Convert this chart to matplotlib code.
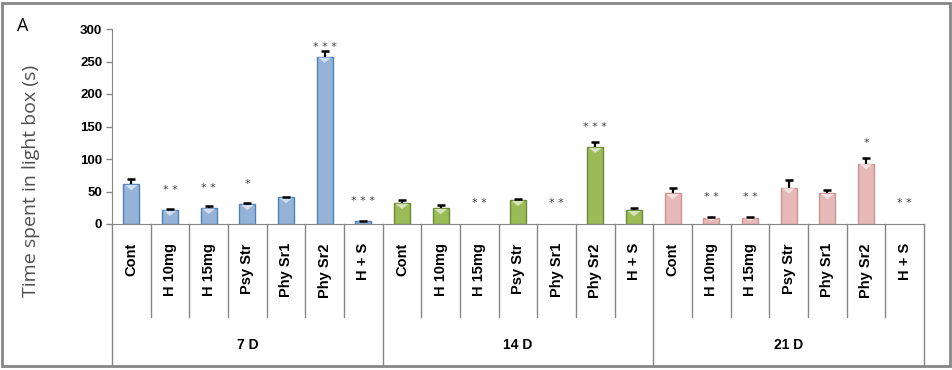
import numpy as np
import matplotlib
matplotlib.use('Agg')
import matplotlib.pyplot as plt
from matplotlib.patches import Rectangle, Polygon

# data
treatments = ['Cont', 'H 10mg', 'H 15mg', 'Psy Str', 'Phy Sr1', 'Phy Sr2', 'H + S']
groups = ['7 D', '14 D', '21 D']

mean_7d = [61, 21.5, 24.5, 30.5, 41, 257, 4]
err_7d = [8, 1, 3.5, 1.5, 1, 9, 1]
mean_14d = [32, 24, 0, 36.5, 0, 118, 21]
err_14d = [5.5, 5.5, 0, 2, 0, 8.5, 4]
mean_21d = [47, 10, 10, 56, 47, 93, 0]
err_21d = [9, 0.5, 1, 12, 5, 8.5, 0]

stars_7d = ['', '* *', '* *', '*', '', '* * *', '* * *']
stars_14d = ['', '', '* *', '', '* *', '* * *', '']
stars_21d = ['', '* *', '* *', '', '', '*', '* *']
star_y_7d = [0, 52, 55, 61.5, 0, 273, 35]
star_y_14d = [0, 0, 32, 0, 32, 149, 0]
star_y_21d = [0, 41, 41, 0, 0, 124, 32]

face_cols = ['#95b3d7', '#9bbb59', '#e6b9b8']
edge_cols = ['#4f81bd', '#6b8a35', '#c99593']

means = [mean_7d, mean_14d, mean_21d]
errs = [err_7d, err_14d, err_21d]
stars = [stars_7d, stars_14d, stars_21d]
star_ys = [star_y_7d, star_y_14d, star_y_21d]

plt.rcParams['font.family'] = ['Liberation Sans', 'DejaVu Sans']

fig = plt.figure(figsize=(9.53, 3.70), dpi=100)
ax = fig.add_axes([112 / 953, 146 / 370, 812 / 953, 195 / 370])

n = len(treatments)
bar_w = 0.42
for g in range(len(groups)):
    x = np.arange(n) + g * n
    m = np.array(means[g], dtype=float)
    e = np.array(errs[g], dtype=float)
    ok = m > 0
    ax.bar(x[ok], m[ok], width=bar_w, color=face_cols[g], edgecolor=edge_cols[g], linewidth=1.0, zorder=2)
    # white bevel highlight at top of the bars
    for xi, mi in zip(x[ok], m[ok]):
        d = min(9, mi * 0.5)
        tri = Polygon([[xi - bar_w / 2 + 0.04, mi - 0.8], [xi + bar_w / 2 - 0.04, mi - 0.8], [xi, mi - d]],
                      closed=True, facecolor='white', alpha=0.6, edgecolor='none', zorder=3)
        ax.add_patch(tri)
    # upper error bars only, with a single cap
    ax.vlines(x[ok], m[ok], m[ok] + e[ok], color='black', lw=1.6, zorder=4)
    ax.plot(x[ok], m[ok] + e[ok], ls='none', marker='_', markersize=6, mew=1.8, color='black', zorder=4)
    for xi, s, sy in zip(x, stars[g], star_ys[g]):
        if s:
            ax.text(xi, sy, s, ha='center', va='center', fontsize=8, color='#404040',
                    family=['DejaVu Sans'])

ax.set_xlim(-0.5, 3 * n - 0.5)
ax.set_ylim(0, 300)
ax.set_yticks(range(0, 301, 50))
ax.tick_params(axis='y', length=4, width=1, color='#868686', labelsize=9.5, pad=3)
for lab in ax.get_yticklabels():
    lab.set_fontweight('bold')
ax.set_xticks([])
for sp in ['top', 'right']:
    ax.spines[sp].set_visible(False)
ax.spines['left'].set_color('#868686')
ax.spines['bottom'].set_color('#868686')

# multi level category axis
tr = ax.get_xaxis_transform()
row1 = -(317 - 224) / 195
row2 = -(366 - 224) / 195
for i in range(3 * n + 1):
    bottom = row2 if i % n == 0 else row1
    ax.plot([i - 0.5, i - 0.5], [0, bottom], transform=tr, color='#868686', lw=1, clip_on=False)
for i in range(3 * n):
    ax.text(i, -(243 - 224) / 195, treatments[i % n], transform=tr, rotation=90, ha='center', va='top',
            fontsize=10.5, fontweight='bold')
for g, name in enumerate(groups):
    ax.text(g * n + (n - 1) / 2, -(345 - 224) / 195, name, transform=tr, ha='center', va='center',
            fontsize=10, fontweight='bold')

ax.set_ylabel('Time spent in light box (s)', fontsize=14, color='#505050', family=['Open Sans'])
ax.yaxis.set_label_coords(-(112 - 40) / 812, (224 - 181) / 195)

fig.text(17 / 953, 1 - 26 / 370, 'A', fontsize=13, va='center', ha='left', family=['Open Sans'])

fig.patches.append(Rectangle((2 / 953, 4 / 370), 948 / 953, 363 / 370, transform=fig.transFigure,
                             fill=False, edgecolor='#868686', lw=2))

fig.savefig('out.png', dpi=100)
